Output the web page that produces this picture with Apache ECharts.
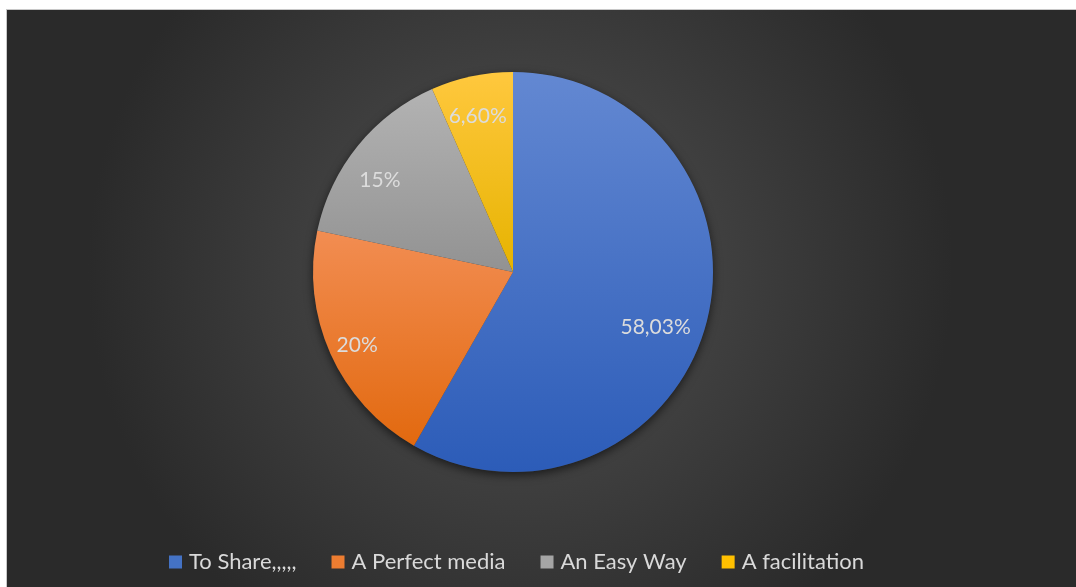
<!DOCTYPE html>
<html>
<head>
<meta charset="utf-8">
<script src="https://cdn.jsdelivr.net/npm/echarts@6/dist/echarts.min.js"></script>
<style>
  html, body { margin: 0; padding: 0; background: #ffffff; width: 1076px; height: 587px; overflow: hidden; }
  #frame { position: absolute; left: 6px; top: 9px; width: 1070px; height: 578px;
           border-top: 1px solid #c8c8c8; border-left: 1px solid #c8c8c8; box-sizing: border-box; }
  #chart { width: 100%; height: 100%; }
</style>
</head>
<body>
<div id="frame"><div id="chart"></div></div>
<script>
// Survey answers and their shares
const categories = ['To Share,,,,,', 'A Perfect media', 'An Easy Way', 'A facilitation'];
const values = [58.03, 20, 15, 6.6];
const labels = ['58,03%', '20%', '15%', '6,60%'];

// Top / bottom shade of each slice
const topColors = ['#6388d2', '#f28d52', '#b3b3b3', '#ffc83e'];
const bottomColors = ['#2c5cb8', '#e2690f', '#929292', '#e6b300'];
const swatchColors = ['#4472c4', '#ed7d31', '#a5a5a5', '#ffc000'];
// small nudges of the value labels inside their slices
const labelNudges = [[-13, 14], [-9, 7], [-8, 10], [-2, 2]];

const chart = echarts.init(document.getElementById('chart'), null, { renderer: 'canvas' });

const center = [506, 262];
const R = 200;
const FONT = 'Lato, "Open Sans", sans-serif';

function grad(i) {
  return new echarts.graphic.LinearGradient(0, 0, 0, 1, [
    { offset: 0, color: topColors[i] },
    { offset: 1, color: bottomColors[i] }
  ]);
}

const pieData = categories.map((name, i) => ({
  name,
  value: values[i],
  itemStyle: { color: grad(i) }
}));

const labelData = categories.map((name, i) => ({
  name,
  value: values[i],
  label: { formatter: labels[i], offset: labelNudges[i] }
}));

chart.setOption({
  backgroundColor: new echarts.graphic.RadialGradient(0.48, 0.45, 0.75, [
    { offset: 0, color: '#525252' },
    { offset: 1, color: '#2a2a2a' }
  ]),
  animation: false,
  legend: {
    bottom: 9,
    left: 157,
    itemWidth: 13,
    itemHeight: 13,
    itemGap: 35,
    icon: 'rect',
    textStyle: { color: '#d9d9d9', fontSize: 22, fontFamily: FONT, padding: [0, 0, 0, 2] },
    data: categories.map((name, i) => ({ name, itemStyle: { color: swatchColors[i] } }))
  },
  series: [
    {
      // soft drop shadow under the whole pie
      type: 'pie',
      silent: true,
      z: 1,
      center, radius: R,
      label: { show: false },
      labelLine: { show: false },
      legendHoverLink: false,
      itemStyle: { color: '#3a3a3a', shadowBlur: 10, shadowOffsetY: 3, shadowColor: 'rgba(0,0,0,0.6)' },
      data: [{ name: '_shadow', value: 1 }],
      tooltip: { show: false }
    },
    {
      type: 'pie',
      z: 2,
      center, radius: R,
      startAngle: 90,
      clockwise: true,
      label: { show: false },
      labelLine: { show: false },
      itemStyle: { borderWidth: 0 },
      data: pieData
    },
    {
      // transparent ring carrying the value labels
      type: 'pie',
      z: 3,
      silent: true,
      center, radius: [R * 0.58, R],
      startAngle: 90,
      clockwise: true,
      itemStyle: { color: 'rgba(0,0,0,0)' },
      label: {
        show: true, position: 'inside',
        color: '#dcdcdc', fontSize: 21,
        fontFamily: FONT
      },
      labelLine: { show: false },
      data: labelData
    }
  ]
});
</script>
</body>
</html>
